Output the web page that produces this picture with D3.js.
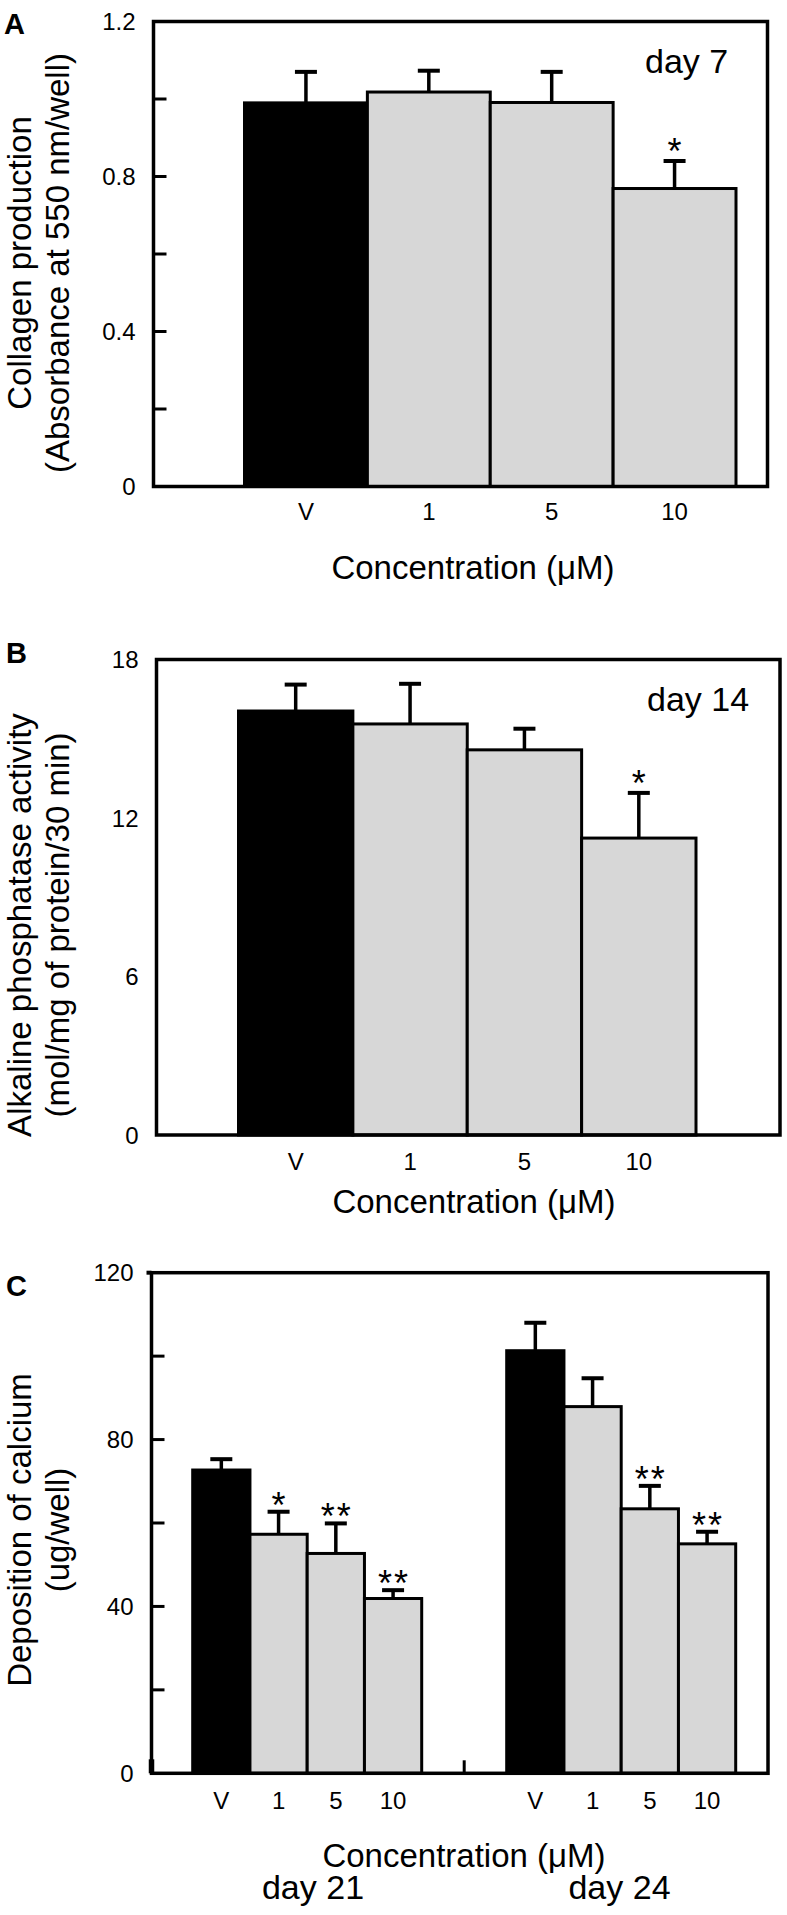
<!DOCTYPE html>
<html>
<head>
<meta charset="utf-8">
<script src="https://cdn.jsdelivr.net/npm/d3@7"></script>
<style>
  html, body { margin: 0; padding: 0; background: #fff; }
  svg { display: block; }
  text { font-family: "Liberation Sans", Arial, Helvetica, sans-serif; fill: #000; }
</style>
</head>
<body>
<script>
// ---------------- DATA ----------------
const concCategories = ["V", "1", "5", "10"];

// Panel A: collagen production, day 7
const collagenValues = [0.99, 1.018, 0.991, 0.769];
const collagenErrors = [0.08, 0.055, 0.079, 0.071];
const collagenSig = ["", "", "", "*"];
const collagenTickLabels = [0, 0.4, 0.8, 1.2];
const collagenInnerTicks = [0.2, 0.4, 0.6, 0.8, 1.0];

// Panel B: alkaline phosphatase, day 14
const alpValues = [16.05, 15.56, 14.58, 11.24];
const alpErrors = [1.0, 1.52, 0.8, 1.71];
const alpSig = ["", "", "", "*"];
const alpTickLabels = [0, 6, 12, 18];

// Panel C: calcium deposition, day 21 and day 24
const calciumGroups = ["day 21", "day 24"];
const calciumDay21 = [72.7, 57.3, 52.7, 41.9];
const calciumDay21Err = [2.6, 5.4, 7.2, 2.0];
const calciumDay21Sig = ["", "*", "**", "**"];
const calciumDay24 = [101.3, 87.9, 63.4, 55.0];
const calciumDay24Err = [6.7, 6.8, 5.5, 2.9];
const calciumDay24Sig = ["", "", "**", "**"];
const calciumTickLabels = [0, 40, 80, 120];
const calciumInnerTicks = [20, 40, 60, 80, 100];

// ---------------- DRAWING ----------------
const W = 787, H = 1915;
const svg = d3.select("body").append("svg").attr("width", W).attr("height", H);
svg.append("rect").attr("width", W).attr("height", H).attr("fill", "#fff");

const GRAY = "#d7d7d7";
const TITLE_FS = 33, TICK_FS = 24, STAR_FS = 36;

function drawBars(g, xs, y, values, errors, sig, starGap) {
  const bw = xs.bandwidth();
  concCategories.forEach((c, i) => {
    const x0 = xs(c);
    g.append("rect")
      .attr("x", x0).attr("y", y(values[i]))
      .attr("width", bw).attr("height", y(0) - y(values[i]))
      .attr("fill", i === 0 ? "#000" : GRAY)
      .attr("stroke", "#000").attr("stroke-width", 3);
  });
  concCategories.forEach((c, i) => {
    const cx = xs(c) + bw / 2;
    const top = y(values[i] + errors[i]);
    g.append("line").attr("x1", cx).attr("x2", cx)
      .attr("y1", y(values[i])).attr("y2", top)
      .attr("stroke", "#000").attr("stroke-width", 3.5);
    g.append("line").attr("x1", cx - 11).attr("x2", cx + 11)
      .attr("y1", top).attr("y2", top)
      .attr("stroke", "#000").attr("stroke-width", 4);
    if (sig[i]) {
      g.append("text").attr("x", cx + (sig[i].length > 1 ? 1 : 0)).attr("y", top + starGap)
        .attr("text-anchor", "middle").attr("font-size", STAR_FS)
        .attr("letter-spacing", sig[i].length > 1 ? "2px" : "0px")
        .text(sig[i]);
    }
  });
}

function drawFrame(g, x0, x1, y) {
  const d = y.domain();
  g.append("rect")
    .attr("x", x0).attr("y", y(d[1]))
    .attr("width", x1 - x0).attr("height", y(d[0]) - y(d[1]))
    .attr("fill", "none").attr("stroke", "#000").attr("stroke-width", 3.5);
}

function yTickLabels(g, x0, y, ticks, fmt) {
  ticks.forEach(t => {
    g.append("text").attr("x", x0 - 18).attr("y", y(t)).attr("dy", "0.36em")
      .attr("text-anchor", "end").attr("font-size", TICK_FS)
      .text(fmt(t));
  });
}

function innerTicks(g, x0, y, ticks) {
  ticks.forEach(t => {
    g.append("line").attr("x1", x0).attr("x2", x0 + 13)
      .attr("y1", y(t)).attr("y2", y(t))
      .attr("stroke", "#000").attr("stroke-width", 3);
  });
}

function xLabels(g, xs, yBase) {
  concCategories.forEach(c => {
    g.append("text").attr("x", xs(c) + xs.bandwidth() / 2).attr("y", yBase)
      .attr("text-anchor", "middle").attr("font-size", TICK_FS).text(c);
  });
}

function yTitle(g, cy, lines) {
  const xs = [31, 69];
  lines.forEach((l, i) => {
    g.append("text")
      .attr("transform", `translate(${xs[i]},${cy}) rotate(-90)`)
      .attr("text-anchor", "middle").attr("font-size", TITLE_FS).text(l);
  });
}

function panelLetter(g, x, y, l) {
  g.append("text").attr("x", x).attr("y", y).attr("font-size", 29)
    .attr("font-weight", "bold").text(l);
}

// ---- Panel A ----
{
  const g = svg.append("g");
  const y = d3.scaleLinear().domain([0, 1.2]).range([486.5, 21.5]);
  const xs = d3.scaleBand().domain(concCategories).range([244.5, 736]).padding(0);
  const fl = 153.5, fr = 767.5;
  drawBars(g, xs, y, collagenValues, collagenErrors, collagenSig, 3);
  innerTicks(g, fl, y, collagenInnerTicks);
  drawFrame(g, fl, fr, y);
  yTickLabels(g, fl, y, collagenTickLabels, d => d === 0 ? "0" : d3.format(".1f")(d));
  xLabels(g, xs, 520);
  g.append("text").attr("x", 473).attr("y", 579).attr("text-anchor", "middle")
    .attr("font-size", TITLE_FS).text("Concentration (\u03BCM)");
  g.append("text").attr("x", 645).attr("y", 73).attr("font-size", 34).text("day 7");
  yTitle(g, 263, ["Collagen production", "(Absorbance at 550 nm/well)"]);
  panelLetter(g, 4, 34, "A");
}

// ---- Panel B ----
{
  const g = svg.append("g");
  const y = d3.scaleLinear().domain([0, 18]).range([1135, 659.5]);
  const xs = d3.scaleBand().domain(concCategories).range([238.5, 696]).padding(0);
  const fl = 156.5, fr = 780;
  drawBars(g, xs, y, alpValues, alpErrors, alpSig, 3);
  drawFrame(g, fl, fr, y);
  yTickLabels(g, fl, y, alpTickLabels, d => String(d));
  xLabels(g, xs, 1170);
  g.append("text").attr("x", 474).attr("y", 1213).attr("text-anchor", "middle")
    .attr("font-size", TITLE_FS).text("Concentration (\u03BCM)");
  g.append("text").attr("x", 647).attr("y", 711).attr("font-size", 34).text("day 14");
  yTitle(g, 925, ["Alkaline phosphatase activity", "(mol/mg of protein/30 min)"]);
  panelLetter(g, 6, 663, "B");
}

// ---- Panel C ----
{
  const g = svg.append("g");
  const y = d3.scaleLinear().domain([0, 120]).range([1773.3, 1272.7]);
  const groupScale = d3.scaleBand().domain(calciumGroups).range([192.7, 735.7])
    .paddingInner(85 / 314).paddingOuter(0);
  const fl = 151.5, fr = 768;
  const groupData = [
    { v: calciumDay21, e: calciumDay21Err, s: calciumDay21Sig },
    { v: calciumDay24, e: calciumDay24Err, s: calciumDay24Sig }
  ];
  const scales = calciumGroups.map(gr => d3.scaleBand().domain(concCategories)
    .range([groupScale(gr), groupScale(gr) + groupScale.bandwidth()]).padding(0));
  groupData.forEach((d, i) => drawBars(g, scales[i], y, d.v, d.e, d.s, 6));
  innerTicks(g, fl, y, calciumInnerTicks);
  drawFrame(g, fl, fr, y);
  // small outward stubs at top and bottom of left axis
  g.append("line").attr("x1", fl - 5).attr("x2", fl).attr("y1", y(120)).attr("y2", y(120))
    .attr("stroke", "#000").attr("stroke-width", 4);
  g.append("line").attr("x1", fl).attr("x2", fl).attr("y1", y(0)).attr("y2", y(0) - 14)
    .attr("stroke", "#000").attr("stroke-width", 5.5);
  // separator tick between groups
  const mid = (groupScale(calciumGroups[0]) + groupScale.bandwidth() + groupScale(calciumGroups[1])) / 2;
  g.append("line").attr("x1", mid).attr("x2", mid).attr("y1", y(0)).attr("y2", y(0) - 13)
    .attr("stroke", "#000").attr("stroke-width", 3);
  yTickLabels(g, fl, y, calciumTickLabels, d => String(d));
  scales.forEach(xs => xLabels(g, xs, 1809));
  g.append("text").attr("x", 464).attr("y", 1867).attr("text-anchor", "middle")
    .attr("font-size", TITLE_FS).text("Concentration (\u03BCM)");
  calciumGroups.forEach((gr, i) => {
    g.append("text").attr("x", [313, 619.5][i]).attr("y", 1899)
      .attr("text-anchor", "middle").attr("font-size", 34).text(gr);
  });
  yTitle(g, 1530, ["Deposition of calcium", "(ug/well)"]);
  panelLetter(g, 6, 1296, "C");
}
</script>
</body>
</html>
